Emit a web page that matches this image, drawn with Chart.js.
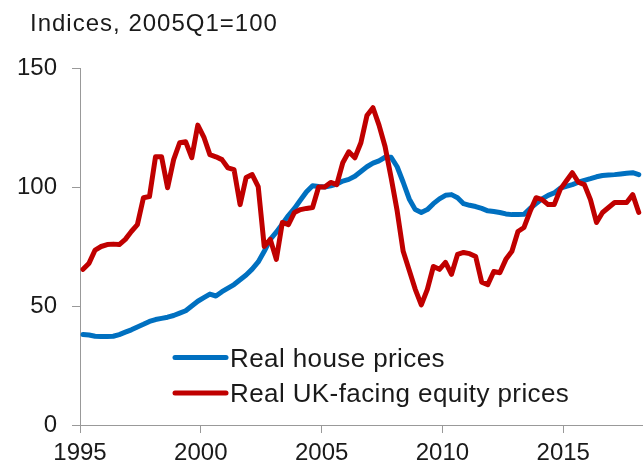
<!DOCTYPE html>
<html lang="en">
<head>
  <meta charset="UTF-8">
  <title>House and equity prices</title>
  <script src="https://cdn.jsdelivr.net/npm/chart.js"></script>
  <style>
    body {
      margin: 0;
      background: #ffffff;
    }

    .wrap {
      width: 643px;
      height: 468px;
      position: relative;
    }
  </style>
</head>
<body>
  <div class="wrap">
    <canvas id="pricesChart"></canvas>
  </div>

  <script>
    // quarterly, 1995Q1 to 2018Q1 (2005Q1 = 100)
    const housePrices = [
      38, 37.8, 37.3, 37.2, 37.2, 37.3, 38, 39, 40, 41.2,
      42.3, 43.5, 44.3, 44.8, 45.3, 46, 47, 48, 50, 52,
      53.5, 55, 54.2, 56, 57.5, 59, 61, 63, 65.5, 68.5,
      73, 78, 81, 84.5, 88, 91, 94.5, 98, 100.5, 100.2,
      100, 100.5, 101.2, 102.5, 103.2, 104.5, 106.5, 108.5, 110, 111,
      112.5, 112.5, 108.5, 102, 95, 90.5, 89.3, 90.5, 93, 95,
      96.5, 96.8, 95.5, 93, 92.3, 91.8, 91, 90, 89.7, 89.3,
      88.7, 88.4, 88.4, 88.5, 91, 93, 95, 96.5, 97.5, 99.5,
      100.3, 101, 102, 102.8, 103.5, 104.3, 104.8, 105, 105.2, 105.5,
      105.8, 106, 105.2
    ];

    const equityPrices = [
      65.4, 68, 73.5, 75, 75.8, 76, 75.8, 78, 81.3, 84.2,
      95.5, 96, 112.7, 112.7, 99.7, 111.5, 118.6, 119, 112.3, 126,
      121, 113.6, 112.7, 111.5, 108, 107.3, 92.6, 104, 105.2, 100.2,
      75, 78, 69.6, 85.1, 84.2, 89.3, 90.5, 91, 91.4, 100,
      100, 101.9, 101, 110.2, 114.8, 112.3, 118.6, 130, 133.3, 126,
      117, 104, 90, 73, 65, 57, 50.5, 57, 66.6, 65.4,
      68.3, 63.3, 71.7, 72.5, 72, 70.8, 60, 59, 64.5, 64,
      69.6, 73, 81.3, 83, 89.7, 95.5, 94.7, 92.6, 92.6, 99,
      102.5, 106, 102, 101, 94.7, 85.1, 89.3, 91.4, 93.5, 93.5,
      93.5, 96.8, 89.3
    ];

    const seriesNames = ['Real house prices', 'Real UK-facing equity prices'];
    const seriesColors = ['#0070C0', '#C00000'];
    const xTicks = [1995, 2000, 2005, 2010, 2015];
    const yTicks = [0, 50, 100, 150];
    const unitsLabel = 'Indices, 2005Q1=100';

    // quarter labels and their position on the year axis (middle of the quarter)
    const quarters = [];
    for (let i = 0; i < housePrices.length; i++) {
      const year = 1995 + Math.floor(i / 4);
      quarters.push(year + 'Q' + (i % 4 + 1));
    }
    const quarterPos = quarters.map(q => {
      const year = parseInt(q.slice(0, 4));
      const qn = parseInt(q.slice(5));
      return year + (qn - 0.5) / 4;
    });

    const fontFamily = "'Liberation Sans', Arial, sans-serif";
    const textColor = '#1a1a1a';
    const axisColor = '#999999';

    // title text and the legend sit inside the picture, so draw them by hand
    const annotations = {
      id: 'annotations',
      afterDraw(chart) {
        const ctx = chart.ctx;
        ctx.save();
        ctx.fillStyle = textColor;
        ctx.textBaseline = 'alphabetic';
        ctx.textAlign = 'left';
        ctx.font = '24px ' + fontFamily;
        ctx.letterSpacing = '1px';
        ctx.fillText(unitsLabel, 30, 31);

        ctx.font = '26px ' + fontFamily;
        ctx.letterSpacing = '0.4px';
        chart.data.datasets.forEach((ds, i) => {
          const y = 357.5 + i * 35.5;
          ctx.strokeStyle = ds.borderColor;
          ctx.lineWidth = 5;
          ctx.lineCap = 'round';
          ctx.beginPath();
          ctx.moveTo(175, y);
          ctx.lineTo(226, y);
          ctx.stroke();
          ctx.fillText(ds.label, 230, y + 9);
        });
        ctx.letterSpacing = '0px';
        ctx.restore();
      }
    };

    function makeDataset(i, values, order) {
      return {
        label: seriesNames[i],
        data: values.map((v, k) => ({ x: quarterPos[k], y: v })),
        borderColor: seriesColors[i],
        backgroundColor: seriesColors[i],
        borderWidth: 5,
        pointRadius: 0,
        tension: 0,
        borderJoinStyle: 'round',
        borderCapStyle: 'round',
        order: order
      };
    }

    const ctx = document.getElementById('pricesChart').getContext('2d');
    new Chart(ctx, {
      type: 'line',
      data: {
        datasets: [
          makeDataset(0, housePrices, 2),
          makeDataset(1, equityPrices, 1)
        ]
      },
      options: {
        responsive: true,
        maintainAspectRatio: false,
        animation: false,
        layout: {
          padding: { top: 68, left: 0, right: 0, bottom: 0 }
        },
        plugins: {
          legend: { display: false },
          tooltip: { enabled: false },
          title: { display: false }
        },
        scales: {
          x: {
            type: 'linear',
            min: 1995,
            max: 2018.3,
            afterBuildTicks: s => { s.ticks = xTicks.map(v => ({ value: v })); },
            afterFit: s => { s.height = 43; },
            ticks: {
              autoSkip: false,
              maxRotation: 0,
              padding: 6,
              color: textColor,
              font: { family: fontFamily, size: 24 },
              callback: v => String(v)
            },
            grid: {
              drawOnChartArea: false,
              tickLength: 8,
              color: axisColor
            },
            border: { color: axisColor, width: 1 }
          },
          y: {
            min: 0,
            max: 150,
            afterBuildTicks: s => { s.ticks = yTicks.map(v => ({ value: v })); },
            afterFit: s => { s.width = 80; },
            ticks: {
              padding: 15,
              color: textColor,
              font: { family: fontFamily, size: 24 }
            },
            grid: {
              drawOnChartArea: false,
              tickLength: 8,
              color: axisColor
            },
            border: { color: axisColor, width: 1 }
          }
        }
      },
      plugins: [annotations]
    });
  </script>
</body>
</html>
